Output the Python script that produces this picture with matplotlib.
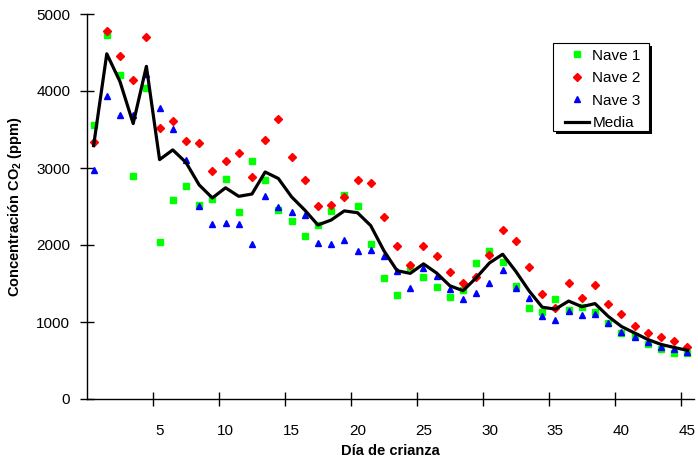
import numpy as np
import matplotlib
matplotlib.use("Agg")
import matplotlib.pyplot as plt
from matplotlib.patches import Rectangle

plt.rcParams["font.family"] = ["Liberation Sans", "DejaVu Sans"]
plt.rcParams["mathtext.fontset"] = "custom"
plt.rcParams["mathtext.rm"] = "Liberation Sans"
plt.rcParams["mathtext.bf"] = "Liberation Sans:bold"

# CO2 concentration (ppm) per day of rearing, three houses plus their mean
dias = list(range(46))
nave1 = [3563, 4733, 4213, 2891, 4035, 2033, 2588, 2761, 2514, 2597,
         2857, 2428, 3095, 2844, 2458, 2306, 2120, 2254, 2436, 2653,
         2501, 2012, 1570, 1352, 1713, 1583, 1453, 1331, 1417, 1765,
         1925, 1773, 1469, 1179, 1135, 1296, 1157, 1200, 1135, 992,
         854, 819, 711, 646, 602, 602]
nave2 = [3338, 4777, 4460, 4148, 4698, 3520, 3606, 3346, 3325, 2965,
         3086, 3195, 2878, 3359, 3641, 3143, 2848, 2501, 2523, 2618,
         2839, 2805, 2358, 1981, 1734, 1981, 1851, 1648, 1504, 1578,
         1873, 2198, 2055, 1720, 1361, 1179, 1512, 1309, 1478, 1235,
         1101, 949, 862, 802, 758, 680]
nave3 = [2969, 3940, 3693, 3693, 4226, 3775, 3511, 3108, 2501, 2272,
         2285, 2272, 2012, 2640, 2490, 2428, 2393, 2025, 2012, 2059,
         1916, 1938, 1851, 1665, 1448, 1700, 1600, 1430, 1300, 1383,
         1504, 1669, 1448, 1317, 1079, 1027, 1148, 1088, 1105, 992,
         871, 802, 745, 680, 646, 615]
media = [3290, 4483, 4122, 3577, 4320, 3109, 3235, 3072, 2780, 2611,
         2743, 2632, 2662, 2948, 2864, 2626, 2454, 2260, 2324, 2443,
         2419, 2252, 1926, 1666, 1632, 1755, 1635, 1470, 1407, 1575,
         1767, 1880, 1657, 1405, 1192, 1167, 1272, 1199, 1239, 1073,
         942, 857, 773, 709, 669, 632]
xticks = [5, 10, 15, 20, 25, 30, 35, 40, 45]
yticks = [0, 1000, 2000, 3000, 4000, 5000]

W, H = 698, 463
fig = plt.figure(figsize=(W / 100, H / 100), dpi=100)
ax = fig.add_axes([87 / W, 1 - 399 / H, 607 / W, 385 / H])

ax.plot(dias, nave1, "s", color="#00ff00", ms=4.5, mec="#00ff00", label="Nave 1")
ax.plot(dias, nave2, "D", color="#ff0000", ms=3.8, mec="#ff0000", label="Nave 2")
ax.plot(dias, nave3, "^", color="#0000ff", ms=5, mec="#0000ff", label="Nave 3")
ax.plot(dias, media, "-", color="black", lw=2.3, label="Media")

ax.set_xlim(-0.5, 45.5)
ax.set_ylim(0, 5000)
for side in ("top", "right"):
    ax.spines[side].set_visible(False)
for side in ("left", "bottom"):
    ax.spines[side].set_linewidth(1.0)

# category axis: tick marks on the boundaries, labels on the centres
ax.set_xticks(xticks)
ax.set_xticklabels([str(t) for t in xticks])
ax.set_xticks([t - 0.5 for t in xticks], minor=True)
ax.tick_params(axis="x", which="major", length=0, pad=18, labelsize=11)
ax.tick_params(axis="x", which="minor", direction="inout", length=10, width=1)
ax.set_yticks(yticks)
ax.tick_params(axis="y", direction="inout", length=10, width=1, pad=7, labelsize=11)

ax.set_xlabel("Día de crianza", fontsize=10.5, fontweight="bold", va="top")
ax.xaxis.set_label_coords(0.5, -0.118)
ax.set_ylabel(r"Concentración CO$_{\mathbf{2}}$ (ppm)", fontsize=10.5, fontweight="bold")
ax.yaxis.set_label_coords(-0.104, 0.5)

# legend box with a solid drop shadow, drawn separately from the entries
bx, by, bw, bh = 553, 43, 96, 88
ax.add_patch(Rectangle(((bx + 3) / W, 1 - (by + bh + 3) / H), bw / W, bh / H,
                       transform=fig.transFigure, facecolor="black",
                       edgecolor="none", zorder=5, clip_on=False))
ax.add_patch(Rectangle((bx / W, 1 - (by + bh) / H), bw / W, bh / H,
                       transform=fig.transFigure, facecolor="white",
                       edgecolor="black", lw=0.8, zorder=6, clip_on=False))
leg = ax.legend(loc="upper left", bbox_to_anchor=(565 / W, 1 - 48.5 / H),
                bbox_transform=fig.transFigure, borderaxespad=0, borderpad=0,
                frameon=False, fontsize=11, handlelength=1.55,
                handletextpad=0.25, labelspacing=0.56)
leg.set_zorder(7)

fig.savefig("out.png", dpi=100)
